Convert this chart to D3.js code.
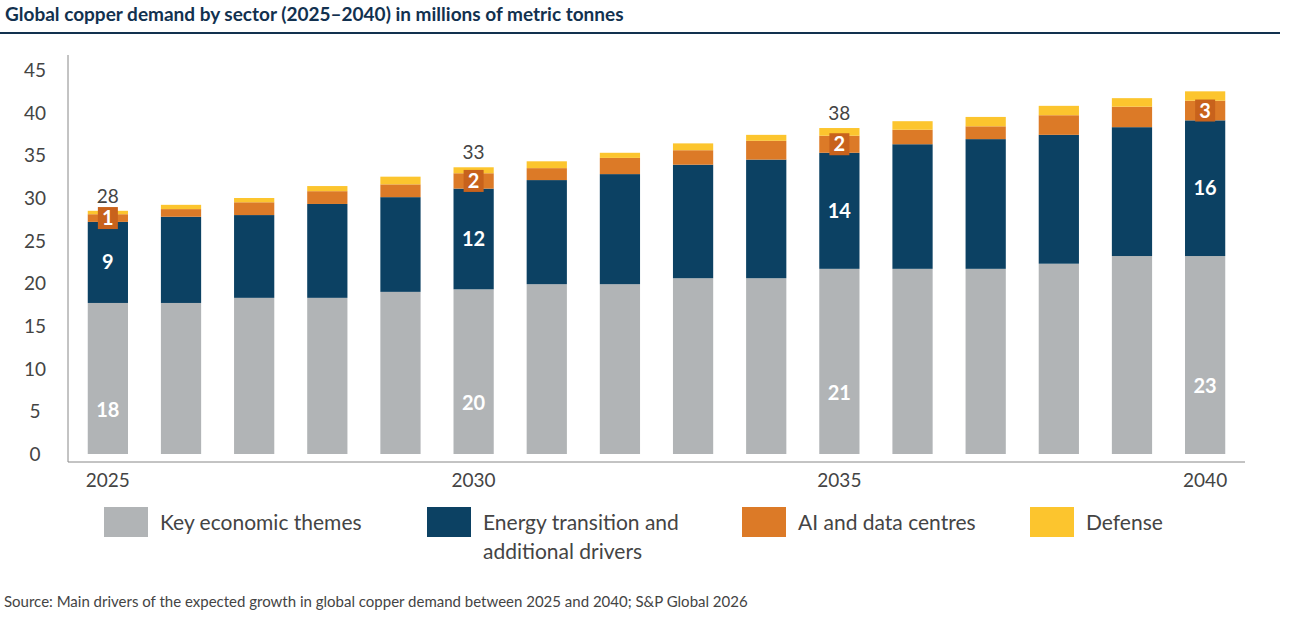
<!DOCTYPE html>
<html><head><meta charset="utf-8">
<script src="https://cdn.jsdelivr.net/npm/d3@7"></script>
<style>body{margin:0;background:#fff;font-family:Lato,"Open Sans",sans-serif}</style>
</head><body><div id="chart"></div>
<script>
var years = [2025,2026,2027,2028,2029,2030,2031,2032,2033,2034,2035,2036,2037,2038,2039,2040];
var keyEconomic = [17.7,17.7,18.3,18.3,19.0,19.3,19.9,19.9,20.6,20.6,21.7,21.7,21.7,22.3,23.2,23.2];
var energy      = [9.5,10.1,9.7,11.0,11.1,11.8,12.2,12.9,13.3,13.9,13.6,14.6,15.2,15.1,15.1,15.9];
var aiData      = [0.9,0.9,1.5,1.5,1.5,1.8,1.4,1.9,1.7,2.2,2.0,1.7,1.5,2.3,2.4,2.3];
var defense     = [0.4,0.5,0.5,0.6,0.9,0.7,0.8,0.6,0.8,0.7,0.9,1.0,1.1,1.1,1.0,1.1];
var seriesNames = ['Key economic themes','Energy transition and additional drivers','AI and data centres','Defense'];
var colors = ['#b1b4b6','#0c4163','#dc7a27','#fcc52e'];
var labelYears = [2025,2030,2035,2040];
var segLabels = [[18,9,1],[20,12,2],[21,14,2],[23,16,3]];
var totals = [28,33,38,null];
var yTicks = [0,5,10,15,20,25,30,35,40,45];

var W = 1299, H = 617;
var svg = d3.select('#chart').append('svg').attr('width', W).attr('height', H);

svg.append('text').attr('x', 5).attr('y', 21).attr('font-size', '19px').attr('font-weight', 'bold')
  .attr('fill', '#12314f').text('Global copper demand by sector (2025\u20132040) in millions of metric tonnes');
svg.append('line').attr('x1', 0).attr('x2', 1280).attr('y1', 33).attr('y2', 33)
  .attr('stroke', '#12314f').attr('stroke-width', 2);

var x = d3.scaleBand().domain(years).range([68, 1245]).paddingInner(0.45).paddingOuter(0.27);
var y = d3.scaleLinear().domain([0, 45]).range([454, 70]);

// axes lines
svg.append('line').attr('x1', 68).attr('x2', 68).attr('y1', 55).attr('y2', 462).attr('stroke', '#888');
svg.append('line').attr('x1', 68).attr('x2', 1245).attr('y1', 462).attr('y2', 462).attr('stroke', '#888');

svg.selectAll('.ytick').data(yTicks).enter().append('text')
  .attr('x', 35).attr('y', d => y(d) + 7).attr('text-anchor', 'middle')
  .attr('font-size', '19px').attr('fill', '#444').text(d => d);

svg.selectAll('.xtick').data(labelYears).enter().append('text')
  .attr('x', d => x(d) + x.bandwidth() / 2).attr('y', 487).attr('text-anchor', 'middle')
  .attr('font-size', '19px').attr('fill', '#444').text(d => d);

var table = years.map((yr, i) => ({year: yr, k: keyEconomic[i], e: energy[i], a: aiData[i], d: defense[i]}));
var stack = d3.stack().keys(['k','e','a','d'])(table);

svg.selectAll('.layer').data(stack).enter().append('g')
  .attr('fill', (d, i) => colors[i])
  .selectAll('rect').data(d => d).enter().append('rect')
    .attr('x', d => x(d.data.year)).attr('width', x.bandwidth())
    .attr('y', d => y(d[1])).attr('height', d => y(d[0]) - y(d[1]));

// segment labels
labelYears.forEach(function(yr, j) {
  var i = years.indexOf(yr);
  var cx = x(yr) + x.bandwidth() / 2;
  var s0 = stack[0][i], s1 = stack[1][i], s2 = stack[2][i], s3 = stack[3][i];
  svg.append('text').attr('x', cx).attr('y', y(s0[1] / 2 - 4.5) ).attr('text-anchor', 'middle')
    .attr('font-size', '20px').attr('font-weight', 'bold').attr('fill', '#fff').text(segLabels[j][0]);
  svg.append('text').attr('x', cx).attr('y', y((s1[0] + s1[1]) / 2) + 7).attr('text-anchor', 'middle')
    .attr('font-size', '20px').attr('font-weight', 'bold').attr('fill', '#fff').text(segLabels[j][1]);
  var my = y((s2[0] + s2[1]) / 2);
  svg.append('rect').attr('x', cx - 10).attr('y', my - 11).attr('width', 20).attr('height', 22).attr('fill', '#c8621c');
  svg.append('text').attr('x', cx).attr('y', my + 7).attr('text-anchor', 'middle')
    .attr('font-size', '20px').attr('font-weight', 'bold').attr('fill', '#fff').text(segLabels[j][2]);
  if (totals[j] != null) {
    svg.append('text').attr('x', cx).attr('y', y(s3[1]) - 8).attr('text-anchor', 'middle')
      .attr('font-size', '19px').attr('fill', '#444').text(totals[j]);
  }
});

// legend
var legX = [104, 427, 742, 1030];
seriesNames.forEach(function(name, i) {
  var g = svg.append('g').attr('transform', 'translate(' + legX[i] + ',507)');
  g.append('rect').attr('width', 44).attr('height', 30).attr('fill', colors[i]);
  var t = g.append('text').attr('x', 56).attr('y', 23).attr('font-size', '21px').attr('fill', '#444');
  if (i === 1) {
    t.append('tspan').attr('x', 56).text('Energy transition and');
    t.append('tspan').attr('x', 56).attr('dy', 29).text('additional drivers');
  } else t.text(name);
});

svg.append('text').attr('x', 4).attr('y', 607).attr('font-size', '15px').attr('fill', '#444')
  .text('Source: Main drivers of the expected growth in global copper demand between 2025 and 2040; S&P Global 2026');
</script></body></html>
